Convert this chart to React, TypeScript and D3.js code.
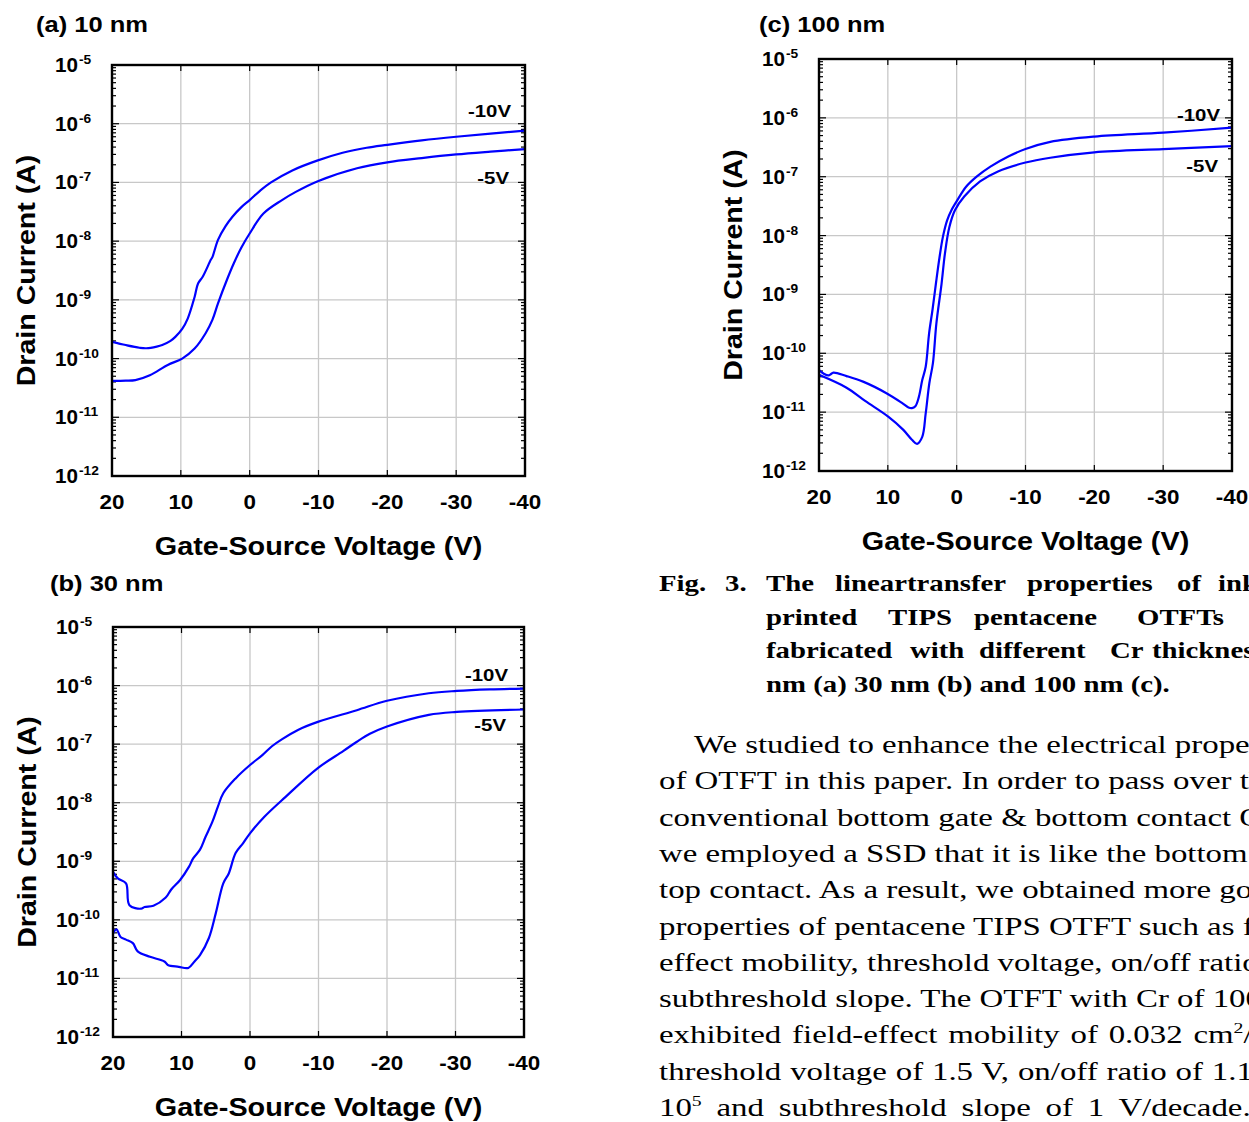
import React from 'react';
import * as d3 from 'd3';

type Pt = [number, number]; // [gate-source voltage (V), drain current (A)]

const voltTicks = [20, 10, 0, -10, -20, -30, -40];
const decadeExp = [-12, -11, -10, -9, -8, -7, -6, -5];

// (a) 10 nm
const aDrain10V: Pt[] = [
  [20, 1.93e-10], [18, 1.7e-10], [16, 1.53e-10], [15, 1.5e-10], [13.5, 1.6e-10], [12.7, 1.7e-10],
  [11.5, 2.0e-10], [10.8, 2.34e-10], [9.8, 3.2e-10], [9, 4.8e-10], [8, 1.12e-9], [7.5, 1.9e-9],
  [6.8, 2.5e-9], [5.65, 4.8e-9], [5.4, 5.4e-9], [4.6, 1.05e-8], [3.5, 1.8e-8], [2.5, 2.6e-8],
  [1.2, 3.8e-8], [0, 5.0e-8], [-1.5, 7.2e-8], [-3.1, 1.0e-7], [-6.2, 1.6e-7], [-9.8, 2.35e-7],
  [-13.5, 3.2e-7], [-17, 3.9e-7], [-20, 4.37e-7], [-25, 5.2e-7], [-30, 6.0e-7], [-35, 6.8e-7], [-40, 7.6e-7],
];
const aDrain5V: Pt[] = [
  [20, 4.17e-11], [18, 4.2e-11], [16.6, 4.3e-11], [14.5, 5.2e-11], [11.9, 7.8e-11], [9.8, 1.0e-10],
  [8, 1.48e-10], [6.4, 2.7e-10], [5.4, 4.6e-10], [4.6, 8.7e-10], [3.3, 2.2e-9], [2.3, 4.2e-9],
  [1.2, 7.8e-9], [0, 1.35e-8], [-2, 2.95e-8], [-4.7, 5.0e-8], [-6.7, 6.9e-8], [-9.9, 1.05e-7],
  [-15.6, 1.74e-7], [-20, 2.2e-7], [-25, 2.6e-7], [-30, 3.0e-7], [-35, 3.35e-7], [-40, 3.7e-7],
];

// (b) 30 nm
const bDrain10V: Pt[] = [
  [20, 6.6e-10], [19.3, 5.1e-10], [18.1, 4.2e-10], [17.6, 1.78e-10], [15.9, 1.55e-10], [15.4, 1.66e-10],
  [14.1, 1.74e-10], [12.3, 2.4e-10], [11.5, 3.3e-10], [10.2, 4.8e-10], [8.9, 8.1e-10], [8.3, 1.12e-9],
  [7.3, 1.58e-9], [6.5, 2.6e-9], [5.5, 4.7e-9], [4.7, 8.5e-9], [3.9, 1.45e-8], [2.1, 2.6e-8],
  [0, 4.4e-8], [-1.8, 6.5e-8], [-3.2, 9.2e-8], [-4.7, 1.22e-7], [-7, 1.75e-7], [-9.9, 2.4e-7],
  [-15.6, 3.8e-7], [-20, 5.5e-7], [-26.1, 7.4e-7], [-30.2, 8.1e-7], [-35, 8.6e-7], [-40, 8.9e-7],
];
const bDrain5V: Pt[] = [
  [20, 5.9e-11], [19.5, 6.9e-11], [18.9, 5.1e-11], [18.1, 4.6e-11], [17.1, 4.0e-11], [16.4, 2.9e-11],
  [14.6, 2.34e-11], [12.5, 1.95e-11], [12, 1.7e-11], [10.4, 1.58e-11], [9, 1.51e-11], [8.1, 1.95e-11],
  [7.3, 2.5e-11], [6, 4.9e-11], [5, 1.29e-10], [3.9, 4.2e-10], [3.1, 6.2e-10], [2.1, 1.38e-9],
  [1, 2.04e-9], [0, 3.0e-9], [-2.1, 5.75e-9], [-5.2, 1.26e-8], [-9.9, 3.9e-8], [-13.6, 7.6e-8],
  [-15.6, 1.1e-7], [-17.5, 1.5e-7], [-20, 2.0e-7], [-26.1, 3.16e-7], [-30.2, 3.55e-7], [-40, 3.9e-7],
];

// (c) 100 nm
const cDrain10V: Pt[] = [
  [20, 5.2e-11], [19.3, 4.5e-11], [18.6, 4.2e-11], [18.3, 4.4e-11], [17.9, 4.7e-11], [16, 4.1e-11],
  [13.6, 3.3e-11], [10.2, 2.1e-11], [8, 1.45e-11], [7, 1.2e-11], [6.5, 1.17e-11], [6, 1.26e-11],
  [5.5, 1.8e-11], [5, 3.5e-11], [4.5, 5.9e-11], [4, 2.2e-10], [3.5, 5.6e-10], [3, 1.58e-9],
  [2.5, 4.2e-9], [2, 9.5e-9], [1.4, 1.8e-8], [0.76, 2.7e-8], [-0.1, 4.0e-8], [-1.4, 6.8e-8],
  [-2.9, 1.0e-7], [-4.9, 1.48e-7], [-7.5, 2.2e-7], [-10, 2.95e-7], [-13.6, 3.9e-7], [-20, 4.8e-7],
  [-30, 5.6e-7], [-40, 6.8e-7],
];
const cDrain5V: Pt[] = [
  [20, 4.3e-11], [16, 2.6e-11], [13.3, 1.55e-11], [9.9, 8.3e-12], [7.75, 5.0e-12], [6.5, 3.4e-12],
  [5.75, 2.9e-12], [5, 3.8e-12], [4.5, 9.5e-12], [3.97, 3.1e-11], [3.45, 6.8e-11], [2.95, 3.2e-10],
  [2.2, 1.5e-9], [1.7, 5.0e-9], [1.06, 1.4e-8], [0.25, 2.7e-8], [-1.1, 4.6e-8], [-3.4, 8.3e-8],
  [-6, 1.23e-7], [-10, 1.74e-7], [-13.6, 2.1e-7], [-20, 2.6e-7], [-30, 2.95e-7], [-40, 3.3e-7],
];

const captionLines: [string, number][][] = [
  [['Fig.', 659], ['3.', 725], ['The', 766], ['lineartransfer', 835], ['properties', 1027], ['of', 1177], ['ink-', 1218]],
  [['printed', 766], ['TIPS', 888], ['pentacene', 974], ['OTFTs', 1137], ['were', 1262]],
  [['fabricated', 766], ['with', 910], ['different', 979], ['Cr', 1110], ['thickness', 1152]],
  [['nm (a) 30 nm (b) and 100 nm (c).', 766]],
];

const bodyLines: { x: number; ws: number; parts: [string, boolean][] }[] = [
  { x: 694, ws: 0, parts: [['We studied to enhance the electrical properties', false]] },
  { x: 659, ws: 0, parts: [['of OTFT in this paper. In order to pass over the', false]] },
  { x: 659, ws: 0, parts: [['conventional bottom gate & bottom contact OTFT,', false]] },
  { x: 659, ws: 0, parts: [['we employed a SSD that it is like the bottom gate &', false]] },
  { x: 659, ws: 0, parts: [['top contact. As a result, we obtained more good', false]] },
  { x: 659, ws: 0, parts: [['properties of pentacene TIPS OTFT such as field-', false]] },
  { x: 659, ws: 0, parts: [['effect mobility, threshold voltage, on/off ratio and', false]] },
  { x: 659, ws: 0, parts: [['subthreshold slope. The OTFT with Cr of 100 nm', false]] },
  { x: 659, ws: 2, parts: [['exhibited field-effect mobility of 0.032 cm', false], ['2', true], ['/Vs,', false]] },
  { x: 659, ws: 0.5, parts: [['threshold voltage of 1.5 V, on/off ratio of 1.1 \u00d7', false]] },
  { x: 659, ws: 5, parts: [['10', false], ['5', true], [' and subthreshold slope of 1 V/decade.', false]] },
];

const SANS = '"Liberation Sans", Arial, sans-serif';
const SERIF = '"Liberation Serif", "Times New Roman", serif';

function SText({ x, y, sx = 1, rotate = 0, anchor = 'start', size, family = SANS, weight = 700, children, style }: any) {
  return (
    <text
      transform={`translate(${x},${y})${rotate ? ` rotate(${rotate})` : ''} scale(${sx},1)`}
      textAnchor={anchor}
      fontFamily={family}
      fontWeight={weight}
      fontSize={size}
      style={style}
    >
      {children}
    </text>
  );
}

function Panel({ id, box, title, titleAt, curves, labels }: any) {
  const { left, top, right, bottom } = box;
  const x = d3.scaleLinear().domain([20, -40]).range([left, right]);
  const y = d3.scaleLog().domain([1e-12, 1e-5]).range([bottom, top]);
  const line = d3.line<Pt>().x(d => x(d[0])).y(d => y(d[1])).curve(d3.curveCatmullRom.alpha(0.5));

  const minor: number[] = [];
  decadeExp.slice(0, -1).forEach(e => {
    for (let m = 2; m <= 9; m++) minor.push(m * Math.pow(10, e));
  });

  return (
    <g>
      <defs>
        <clipPath id={`clip-${id}`}>
          <rect x={left} y={top} width={right - left} height={bottom - top} />
        </clipPath>
      </defs>
      {/* grid */}
      <g stroke="#c8c8c8" strokeWidth={1.3}>
        {voltTicks.slice(1, -1).map(v => (
          <line key={`gx${v}`} x1={x(v)} x2={x(v)} y1={top} y2={bottom} />
        ))}
        {decadeExp.slice(1, -1).map(e => (
          <line key={`gy${e}`} x1={left} x2={right} y1={y(Math.pow(10, e))} y2={y(Math.pow(10, e))} />
        ))}
      </g>
      {/* ticks */}
      <g stroke="#000" strokeWidth={1.2}>
        {minor.map((m, i) => (
          <g key={`mt${i}`}>
            <line x1={left} x2={left + 4} y1={y(m)} y2={y(m)} />
            <line x1={right} x2={right - 4} y1={y(m)} y2={y(m)} />
          </g>
        ))}
        {decadeExp.map(e => (
          <g key={`Mt${e}`}>
            <line x1={left} x2={left + 7} y1={y(Math.pow(10, e))} y2={y(Math.pow(10, e))} />
            <line x1={right} x2={right - 7} y1={y(Math.pow(10, e))} y2={y(Math.pow(10, e))} />
          </g>
        ))}
        {voltTicks.map(v => (
          <g key={`xt${v}`}>
            <line x1={x(v)} x2={x(v)} y1={bottom} y2={bottom - 6} />
            <line x1={x(v)} x2={x(v)} y1={top} y2={top + 6} />
          </g>
        ))}
      </g>
      {/* curves */}
      <g clipPath={`url(#clip-${id})`} fill="none" stroke="#0000ff" strokeWidth={2.2} strokeLinejoin="round">
        {curves.map((c: Pt[], i: number) => (
          <path key={i} d={line(c) || ''} />
        ))}
      </g>
      {/* frame */}
      <rect x={left} y={top} width={right - left} height={bottom - top} fill="none" stroke="#000" strokeWidth={2.4} />
      {/* x tick labels */}
      {voltTicks.map(v => (
        <SText key={`xl${v}`} x={x(v)} y={bottom + 33} sx={1.15} anchor="middle" size={19.5}>
          {v}
        </SText>
      ))}
      {/* y tick labels */}
      {decadeExp.map(e => (
        <SText key={`yl${e}`} x={left - 57} y={y(Math.pow(10, e)) + 7} sx={1.06} size={19.5}>
          10
          <tspan dx={1} dy={-8} fontSize={13}>{e}</tspan>
        </SText>
      ))}
      <SText x={left - 77} y={(top + bottom) / 2} rotate={-90} sx={1.12} anchor="middle" size={25.5}>
        Drain Current (A)
      </SText>
      <SText x={(left + right) / 2} y={bottom + 79} sx={1.13} anchor="middle" size={25.5}>
        Gate-Source Voltage (V)
      </SText>
      <SText x={titleAt[0]} y={titleAt[1]} sx={1.16} size={22}>
        {title}
      </SText>
      {labels.map((l: any) => (
        <SText key={l.text} x={right - l.dr} y={top + l.dt} sx={1.2} anchor="end" size={17}>
          {l.text}
        </SText>
      ))}
    </g>
  );
}

export default function App() {
  return (
    <svg
      width={1249}
      height={1122}
      style={{ position: 'absolute', left: 0, top: 0, background: '#fff' }}
    >
      <rect width={1249} height={1122} fill="#fff" />
      <Panel
        id="a"
        box={{ left: 112, top: 65, right: 525, bottom: 476 }}
        title="(a) 10 nm"
        titleAt={[36, 32]}
        curves={[aDrain10V, aDrain5V]}
        labels={[{ text: '-10V', dr: 14, dt: 52 }, { text: '-5V', dr: 16, dt: 119 }]}
      />
      <Panel
        id="b"
        box={{ left: 113, top: 627, right: 524, bottom: 1037 }}
        title="(b) 30 nm"
        titleAt={[50, 591]}
        curves={[bDrain10V, bDrain5V]}
        labels={[{ text: '-10V', dr: 16, dt: 54 }, { text: '-5V', dr: 18, dt: 104 }]}
      />
      <Panel
        id="c"
        box={{ left: 819, top: 59, right: 1232, bottom: 471 }}
        title="(c) 100 nm"
        titleAt={[759, 32]}
        curves={[cDrain10V, cDrain5V]}
        labels={[{ text: '-10V', dr: 12, dt: 62 }, { text: '-5V', dr: 14, dt: 113 }]}
      />
      {/* caption */}
      {captionLines.map((ln, i) =>
        ln.map(([w, wx]) => (
          <SText key={`cap${i}-${w}`} x={wx} y={591 + i * 33.7} sx={1.28} size={22.5} family={SERIF}>
            {w}
          </SText>
        ))
      )}
      {/* body text */}
      {bodyLines.map((ln, i) => (
        <SText
          key={`body${i}`}
          x={ln.x}
          y={753 + i * 36.3}
          sx={1.315}
          size={25}
          family={SERIF}
          weight={400}
          style={{ wordSpacing: `${ln.ws}px`, whiteSpace: 'pre' }}
        >
          {ln.parts.map(([t, sup], j) =>
            sup ? (
              <tspan key={j} dy={-10} fontSize={15}>{t}</tspan>
            ) : (
              <tspan key={j} dy={j > 0 ? 10 : 0} fontSize={25}>{t}</tspan>
            )
          )}
        </SText>
      ))}
    </svg>
  );
}
